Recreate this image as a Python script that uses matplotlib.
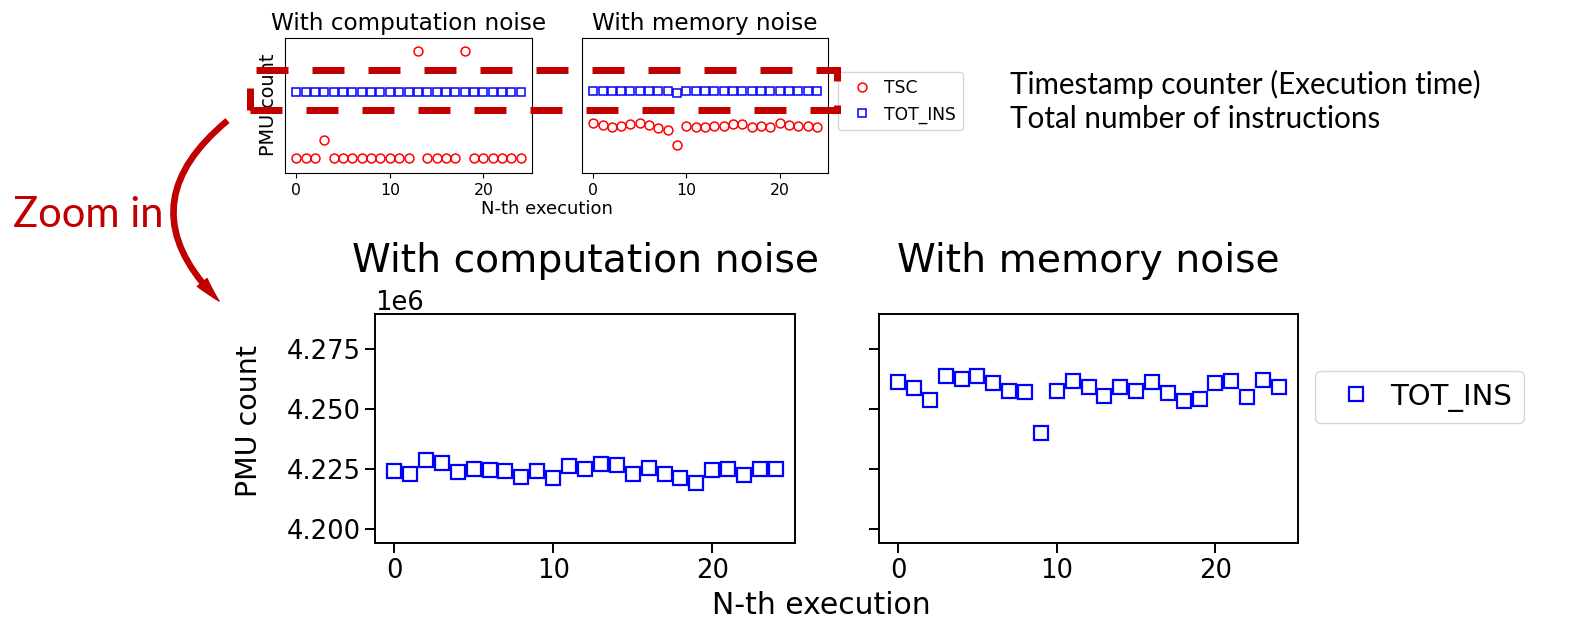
import matplotlib
matplotlib.use("Agg")
import matplotlib.pyplot as plt
from matplotlib.patches import Rectangle, FancyArrowPatch

W, H = 1574, 620
DARK_RED = "#C00000"

runs = list(range(25))

# 上面小圖沒有 y 刻度 -> 用 0~100 的相對單位
tsc_comp_rel = [11.1, 11.1, 11.1, 24.6, 11.1, 11.1, 11.1, 11.1, 11.1, 11.1, 11.1, 11.1, 11.1,
                90.2, 11.1, 11.1, 11.1, 11.1, 90.2, 11.1, 11.1, 11.1, 11.1, 11.1, 11.1]
tot_comp_rel = [59.7, 59.7, 59.7, 59.7, 59.7, 59.7, 59.7, 59.7, 59.7, 59.7, 59.7, 59.7, 59.7,
                59.7, 59.7, 59.7, 59.7, 59.7, 59.7, 59.7, 59.7, 59.7, 59.7, 59.7, 59.7]
tsc_mem_rel = [37.3, 35.4, 33.9, 34.9, 36.4, 36.9, 35.9, 33.4, 31.9, 20.6, 34.9, 33.9, 34.4,
               35.1, 34.6, 36.4, 36.1, 34.2, 35.1, 34.4, 36.9, 35.9, 34.9, 34.9, 34.2]
tot_mem_rel = [60.7, 60.7, 60.7, 60.7, 60.7, 60.7, 60.7, 60.7, 60.7, 59.5, 60.7, 60.7, 60.7,
               60.7, 60.7, 60.7, 60.7, 60.7, 60.7, 60.7, 60.7, 60.7, 60.7, 60.7, 60.7]

# 下面放大圖：TOT_INS（單位 1e6）
tot_ins_comp = [4.2239, 4.2226, 4.2288, 4.2275, 4.2238, 4.2250, 4.2246, 4.2240, 4.2217,
                4.2239, 4.2213, 4.2260, 4.2249, 4.2271, 4.2265, 4.2226, 4.2253, 4.2226,
                4.2211, 4.2192, 4.2246, 4.2247, 4.2222, 4.2250, 4.2249]
tot_ins_mem = [4.2614, 4.2588, 4.2538, 4.2636, 4.2625, 4.2639, 4.2608, 4.2575, 4.2569,
               4.2401, 4.2575, 4.2618, 4.2593, 4.2553, 4.2590, 4.2575, 4.2614, 4.2565,
               4.2532, 4.2543, 4.2607, 4.2618, 4.2551, 4.2622, 4.2593]
y_ticks = [4.200e6, 4.225e6, 4.250e6, 4.275e6]
x_ticks = [0, 10, 20]


def fx(x):
    return x / W


def fy(y):
    return 1 - y / H


def box(l, t, r, b):
    return [l / W, 1 - b / H, (r - l) / W, (b - t) / H]


fig = plt.figure(figsize=(W / 100, H / 100), dpi=100)

# ---- 上面兩張小圖 ----
ax_tc = fig.add_axes(box(285, 38, 532, 173))
ax_tm = fig.add_axes(box(582, 38, 828, 173))
for ax, tsc, tot, title in [(ax_tc, tsc_comp_rel, tot_comp_rel, "With computation noise"),
                            (ax_tm, tsc_mem_rel, tot_mem_rel, "With memory noise")]:
    ax.plot(runs, tsc, "o", ls="none", mfc="none", mec="red", ms=6.4, mew=1.1, label="TSC")
    ax.plot(runs, tot, "s", ls="none", mfc="none", mec="blue", ms=6.2, mew=1.1, label="TOT_INS")
    ax.set_ylim(0, 100)
    ax.set_yticks([])
    ax.set_xticks(x_ticks)
    ax.tick_params(labelsize=11.3)
    ax.set_title(title, fontsize=16.7, pad=6)
ax_tm.legend(loc="upper left", bbox_to_anchor=(1.04, 0.748), borderaxespad=0, fontsize=12.3,
             handletextpad=0.3)
fig.text(fx(269), fy(105), "PMU count", rotation=90, ha="center", va="center", fontsize=13.9)
fig.text(fx(547), fy(214), "N-th execution", ha="center", va="baseline", fontsize=13)

# ---- 下面放大圖 ----
ax_bc = fig.add_axes(box(375, 314, 795, 543))
ax_bm = fig.add_axes(box(879, 314, 1298, 543), sharey=ax_bc)
for ax, vals, title in [(ax_bc, tot_ins_comp, "With computation noise"),
                        (ax_bm, tot_ins_mem, "With memory noise")]:
    ax.plot(runs, [v * 1e6 for v in vals], "s", ls="none", mfc="none", mec="blue",
            ms=9.5, mew=1.6, label="TOT_INS")
    ax.set_xticks(x_ticks)
    ax.tick_params(labelsize=18.6, length=7, width=1.4)
    for s in ax.spines.values():
        s.set_linewidth(1.4)
    ax.set_title(title, fontsize=28.3, y=1 + 42 / 229, pad=0)
ax_bc.set_ylim(4.194e6, 4.2896e6)
ax_bc.set_yticks(y_ticks)
ax_bc.yaxis.get_offset_text().set_fontsize(18.6)
ax_bm.tick_params(labelleft=False)
ax_bm.yaxis.get_offset_text().set_visible(False)
ax_bm.legend(loc="upper left", bbox_to_anchor=(1.04, 0.751), borderaxespad=0, fontsize=21,
             handletextpad=0.2)
fig.text(fx(249), fy(421), "PMU count", rotation=90, ha="center", va="center", fontsize=20.5)
fig.text(fx(821), fy(614), "N-th execution", ha="center", va="baseline", fontsize=21.5)

# ---- 註解：紅色虛線框、箭頭、說明文字 ----
rect = Rectangle((fx(250), fy(110)), (837 - 250) / W, 40 / H, transform=fig.transFigure,
                 fill=False, edgecolor=DARK_RED, lw=5.04, linestyle=(0, (4.57, 3.43)),
                 zorder=10, clip_on=False)
fig.add_artist(rect)

arrow = FancyArrowPatch((fx(227), fy(121)), (fx(219), fy(301)), transform=fig.transFigure,
                        connectionstyle="arc3,rad=0.55",
                        arrowstyle="simple,head_width=0.45,head_length=0.9,tail_width=0.18",
                        mutation_scale=20, color=DARK_RED, shrinkA=0, shrinkB=0)
fig.add_artist(arrow)

fig.text(fx(13), fy(227), "Zoom in", color=DARK_RED, fontsize=30, family="Lato", va="baseline")
fig.text(fx(1010), fy(94), "Timestamp counter (Execution time)", fontsize=21.3, family="Lato",
         va="baseline")
fig.text(fx(1010), fy(128), "Total number of instructions", fontsize=21.3, family="Lato",
         va="baseline")

fig.savefig("out.png", dpi=100)
